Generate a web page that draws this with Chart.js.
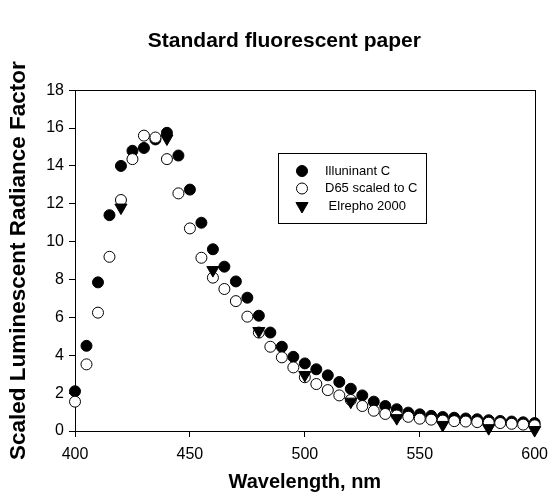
<!DOCTYPE html>
<html>
<head>
<meta charset="utf-8">
<script src="https://cdn.jsdelivr.net/npm/chart.js@4.4.1/dist/chart.umd.min.js"></script>
<style>
  body { margin: 0; background: #fff; }
</style>
</head>
<body>
<canvas id="fluorChart" width="556" height="502"></canvas>
<script>
// wavelengths (nm) for the two circle series
var wavelengths = [400, 405, 410, 415, 420, 425, 430, 435, 440, 445,
                   450, 455, 460, 465, 470, 475, 480, 485, 490, 495,
                   500, 505, 510, 515, 520, 525, 530, 535, 540, 545,
                   550, 555, 560, 565, 570, 575, 580, 585, 590, 595, 600];

var illuminantC = [2.1, 4.5, 7.85, 11.4, 14.0, 14.8, 14.95, 15.4, 15.75, 14.55,
                   12.75, 11.0, 9.6, 8.68, 7.9, 7.04, 6.09, 5.2, 4.45, 3.92,
                   3.57, 3.26, 2.94, 2.59, 2.23, 1.88, 1.55, 1.32, 1.15, 0.97,
                   0.88, 0.8, 0.74, 0.7, 0.66, 0.62, 0.57, 0.53, 0.5, 0.46, 0.42];

var d65ScaledToC = [1.55, 3.52, 6.25, 9.2, 12.2, 14.36, 15.6, 15.5, 14.36, 12.55,
                    10.7, 9.15, 8.1, 7.5, 6.86, 6.04, 5.2, 4.45, 3.89, 3.36,
                    2.84, 2.48, 2.16, 1.88, 1.64, 1.32, 1.07, 0.9, 0.82, 0.75,
                    0.65, 0.6, 0.55, 0.52, 0.5, 0.47, 0.44, 0.42, 0.38, 0.34, 0.3];

// Elrepho readings only every 20 nm
var elrephoWavelengths = [420, 440, 460, 480, 500, 520, 540, 560, 580, 600];
var elrepho2000 = [11.8, 15.45, 8.5, 5.28, 2.96, 1.55, 0.68, 0.32, 0.15, 0.05];

var seriesNames = ['Illuninant C', 'D65 scaled to C', ' Elrepho 2000'];
var xTicks = [400, 450, 500, 550, 600];
var yTicks = [0, 2, 4, 6, 8, 10, 12, 14, 16, 18];

var FONT = "'Liberation Sans', Arial, sans-serif";

function toPoints(xs, ys) {
    return xs.map(function (x, i) { return { x: x, y: ys[i] }; });
}

// box around the plot area
var framePlugin = {
    id: 'frame',
    beforeDatasetsDraw: function (chart) {
        var a = chart.chartArea, ctx = chart.ctx;
        ctx.save();
        ctx.strokeStyle = '#000';
        ctx.lineWidth = 1;
        ctx.strokeRect(Math.round(a.left) + 0.5, Math.round(a.top) + 0.5,
                       Math.round(a.right - a.left), Math.round(a.bottom - a.top));
        ctx.restore();
    }
};

// title sits a little left of the plot centre in the original
var titleShift = {
    id: 'titleShift',
    afterLayout: function (chart) {
        var t = chart.titleBlock;
        if (t) {
            t.left = 34;
            t.right = chart.chartArea.right;
            t.width = t.right - t.left;
        }
    }
};

function drawMarker(ctx, ds, x, y) {
    var r = ds.pointRadius;
    ctx.beginPath();
    if (ds.pointStyle === 'triangle') {
        var h = r * 0.5;
        var w = r * Math.sqrt(3) / 2;
        ctx.moveTo(x, y + r);
        ctx.lineTo(x - w, y - h);
        ctx.lineTo(x + w, y - h);
        ctx.closePath();
    } else {
        ctx.arc(x, y, r, 0, Math.PI * 2);
    }
    ctx.fillStyle = ds.backgroundColor;
    ctx.fill();
    ctx.lineWidth = ds.borderWidth;
    ctx.strokeStyle = ds.borderColor;
    ctx.stroke();
}

// legend box inside the plot
var boxLegend = {
    id: 'boxLegend',
    afterDraw: function (chart) {
        var ctx = chart.ctx;
        var left = 278, top = 153, w = 148, h = 70;
        ctx.save();
        ctx.fillStyle = '#fff';
        ctx.fillRect(left, top, w, h);
        ctx.strokeStyle = '#000';
        ctx.lineWidth = 1;
        ctx.strokeRect(left + 0.5, top + 0.5, w, h);
        ctx.font = '13px ' + FONT;
        ctx.textBaseline = 'middle';
        chart.data.datasets.forEach(function (ds, i) {
            var y = top + 18 + i * 17.5;
            drawMarker(ctx, ds, left + 24, y);
            ctx.fillStyle = '#000';
            ctx.fillText(ds.label, left + 47, y);
        });
        ctx.restore();
    }
};

new Chart(document.getElementById('fluorChart'), {
    type: 'scatter',
    data: {
        datasets: [{
            label: seriesNames[0],
            data: toPoints(wavelengths, illuminantC),
            pointStyle: 'circle',
            pointRadius: 5.5,
            backgroundColor: '#000',
            borderColor: '#000',
            borderWidth: 1,
            clip: false,
            order: 3
        }, {
            label: seriesNames[1],
            data: toPoints(wavelengths, d65ScaledToC),
            pointStyle: 'circle',
            pointRadius: 5.5,
            backgroundColor: '#fff',
            borderColor: '#000',
            borderWidth: 1,
            clip: false,
            order: 2
        }, {
            label: seriesNames[2],
            data: toPoints(elrephoWavelengths, elrepho2000),
            pointStyle: 'triangle',
            rotation: 180,
            pointRadius: 7,
            backgroundColor: '#000',
            borderColor: '#000',
            borderWidth: 1,
            clip: false,
            order: 1
        }]
    },
    options: {
        responsive: false,
        animation: false,
        layout: { padding: { left: 0, right: 16, top: 0, bottom: 0 } },
        plugins: {
            legend: { display: false },
            tooltip: { enabled: false },
            title: {
                display: true,
                text: 'Standard fluorescent paper',
                color: '#000',
                font: { family: FONT, size: 21, weight: 'bold' },
                padding: { top: 29, bottom: 36 }
            }
        },
        scales: {
            x: {
                type: 'linear',
                min: 400,
                max: 600,
                afterBuildTicks: function (s) { s.ticks = xTicks.map(function (v) { return { value: v }; }); },
                afterFit: function (s) { s.height = 71; },
                border: { display: true, color: '#000', width: 1 },
                grid: { drawOnChartArea: false, drawTicks: true, tickLength: 6, color: '#000' },
                ticks: { color: '#000', padding: 8, font: { family: FONT, size: 16 } },
                title: {
                    display: true,
                    text: 'Wavelength, nm',
                    color: '#000',
                    font: { family: FONT, size: 20, weight: 'bold' },
                    padding: { top: 7, bottom: 8 }
                }
            },
            y: {
                min: 0,
                max: 18,
                afterBuildTicks: function (s) { s.ticks = yTicks.map(function (v) { return { value: v }; }); },
                afterFit: function (s) { s.width = 75; },
                border: { display: true, color: '#000', width: 1 },
                grid: { drawOnChartArea: false, drawTicks: true, tickLength: 6, color: '#000' },
                ticks: { color: '#000', padding: 5, font: { family: FONT, size: 16 } },
                title: {
                    display: true,
                    text: 'Scaled Luminescent Radiance Factor',
                    color: '#000',
                    font: { family: FONT, size: 22.5, weight: 'bold' },
                    padding: { top: 5, bottom: 2 }
                }
            }
        }
    },
    plugins: [framePlugin, titleShift, boxLegend]
});
</script>
</body>
</html>
